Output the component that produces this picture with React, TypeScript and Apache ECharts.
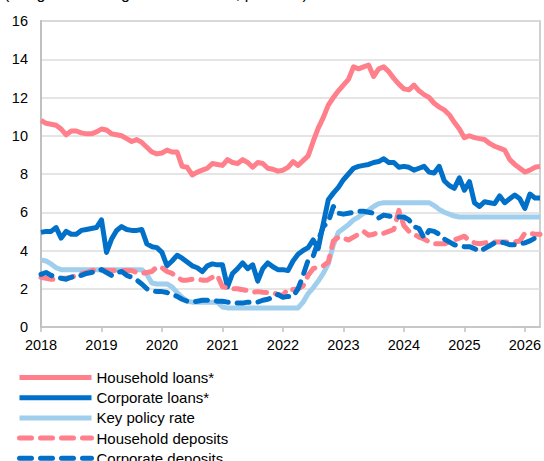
import React, { useEffect, useRef } from "react";
import * as echarts from "echarts";

const startYear = 2018;
const monthCount = 100; // Jan 2018 – Apr 2026

const householdLoans = [
  10.8, 10.65, 10.6, 10.55, 10.35, 10.05, 10.25, 10.25, 10.15, 10.1, 10.1, 10.2,
  10.35, 10.3, 10.1, 10.05, 10.0, 9.85, 9.7, 9.8, 9.65, 9.4, 9.15, 9.05,
  9.1, 9.25, 9.15, 9.15, 8.4, 8.35, 7.95, 8.1, 8.2, 8.3, 8.55, 8.5,
  8.45, 8.75, 8.6, 8.55, 8.75, 8.6, 8.35, 8.6, 8.55, 8.3, 8.25, 8.15,
  8.2, 8.35, 8.65, 8.45, 8.7, 8.95, 9.7, 10.4, 10.95, 11.6, 12.0, 12.35,
  12.65, 12.95, 13.6, 13.5, 13.6, 13.7, 13.1, 13.5, 13.6, 13.35, 13.0, 12.7,
  12.45, 12.4, 12.65, 12.35, 12.15, 12.0, 11.7, 11.5, 11.35, 11.1, 10.7, 10.35,
  9.9, 10.0, 9.9, 9.85, 9.8, 9.6, 9.45, 9.35, 9.25, 8.75, 8.5, 8.3,
  8.1, 8.2, 8.35, 8.4,
];

const corporateLoans = [
  4.95, 5.0, 5.0, 5.2, 4.65, 5.0, 4.85, 4.85, 5.05, 5.1, 5.15, 5.2,
  5.6, 3.9, 4.6, 5.05, 5.25, 5.1, 5.05, 5.05, 5.1, 4.35, 4.2, 4.15,
  3.9, 3.2, 3.45, 3.75, 3.6, 3.4, 3.2, 3.1, 2.9, 3.2, 3.3, 3.25,
  3.25, 2.1, 2.8, 3.05, 3.35, 3.05, 3.25, 2.4, 3.05, 3.35, 3.15, 3.0,
  3.0, 2.95, 3.45, 3.8, 4.0, 4.15, 4.55, 4.1, 5.4, 6.65, 7.0, 7.3,
  7.7, 8.0, 8.3, 8.4, 8.45, 8.5, 8.6, 8.65, 8.8, 8.6, 8.6, 8.35,
  8.4, 8.35, 8.2, 8.3, 8.4, 8.1, 8.05, 8.4, 7.65, 7.4, 7.25, 7.8,
  7.15, 7.6, 6.5, 6.3, 6.55, 6.5, 6.45, 6.85, 6.5, 6.7, 6.9, 6.7,
  6.2, 6.95, 6.75, 6.75,
];

const keyPolicyRate = [
  3.5, 3.45, 3.3, 3.1, 3.0, 3.0, 3.0, 3.0, 3.0, 3.0, 3.0, 3.0,
  3.0, 3.0, 3.0, 3.0, 3.0, 3.0, 3.0, 3.0, 3.0, 2.75, 2.3, 2.25,
  2.25, 2.25, 2.1, 1.8, 1.55, 1.35, 1.3, 1.3, 1.3, 1.3, 1.3, 1.3,
  1.05, 1.0, 1.0, 1.0, 1.0, 1.0, 1.0, 1.0, 1.0, 1.0, 1.0, 1.0,
  1.0, 1.0, 1.0, 1.0, 1.3, 1.75, 2.05, 2.4, 2.8, 3.3, 4.3, 4.95,
  5.15, 5.35, 5.6, 5.75, 5.95, 6.1, 6.3, 6.45, 6.5, 6.5, 6.5, 6.5,
  6.5, 6.5, 6.5, 6.5, 6.5, 6.5, 6.35, 6.15, 6.0, 5.9, 5.8, 5.75,
  5.75, 5.75, 5.75, 5.75, 5.75, 5.75, 5.75, 5.75, 5.75, 5.75, 5.75, 5.75,
  5.75, 5.75, 5.75, 5.75,
];

const householdDeposits = [
  2.6, 2.55, 2.5, 2.5, 2.55, 2.55, 2.6, 2.7, 2.8, 2.85, 2.95, 3.0,
  3.0, 2.95, 2.95, 2.95, 2.95, 2.95, 2.95, 2.85, 2.8, 2.85, 2.9, 3.15,
  3.1, 2.9, 2.8, 2.6, 2.45, 2.45, 2.5, 2.5, 2.45, 2.45, 2.6, 2.7,
  2.1, 2.05, 2.0, 2.0, 1.95, 1.9, 1.82, 1.85, 1.82, 1.8, 1.8, 1.7,
  1.65, 2.0, 1.95, 2.0, 2.15, 2.7, 3.05, 3.15, 3.2, 3.4, 4.5, 4.7,
  4.65, 4.55, 4.7, 4.85, 5.0, 4.8, 4.85, 4.95, 4.9, 5.0, 5.1, 6.1,
  5.3, 5.0, 4.85, 4.7, 4.6, 4.45, 4.35, 4.35, 4.35, 4.45, 4.55, 4.65,
  4.75, 4.5, 4.4, 4.35, 4.4, 4.45, 4.45, 4.45, 4.45, 4.45, 4.45, 4.5,
  4.9, 4.9, 4.85, 4.85,
];

const corporateDeposits = [
  2.75, 2.85, 2.7, 2.6, 2.55, 2.5, 2.6, 2.65, 2.7, 2.8, 2.85, 2.9,
  3.0, 2.85, 2.7, 2.85, 2.9, 2.7, 2.6, 2.45, 2.25, 2.0, 1.9, 1.85,
  1.85, 1.8, 1.7, 1.6, 1.45, 1.35, 1.3, 1.35, 1.4, 1.4, 1.4, 1.35,
  1.35, 1.3, 1.3, 1.25, 1.25, 1.3, 1.3, 1.3, 1.4, 1.45, 1.55, 1.7,
  1.55, 1.6, 1.6, 2.0, 2.7, 3.5, 3.7, 4.5, 5.25, 5.5, 6.3, 5.95,
  5.9, 5.95, 6.0, 6.05, 6.05, 6.0, 5.95, 5.7, 5.85, 5.8, 5.75, 5.75,
  5.75, 5.6, 5.25, 5.15, 4.65, 5.05, 5.0, 4.85, 4.6, 4.45, 4.3, 4.25,
  4.2, 4.2, 4.1, 3.95, 4.1, 4.25, 4.4, 4.45, 4.4, 4.3, 4.3, 4.35,
  4.4, 4.5, 4.65, 4.65,
];

const seriesNames = [
  "Household loans*",
  "Corporate loans*",
  "Key policy rate",
  "Household deposits",
  "Corporate deposits",
];

const PINK = "#FF7F8B";
const BLUE = "#0070C8";
const LIGHT = "#9FCFEC";
const FONT = "Arial, 'Liberation Sans', sans-serif";

const categories: string[] = [];
for (let i = 0; i < monthCount; i++) {
  const y = startYear + Math.floor(i / 12);
  const m = (i % 12) + 1;
  categories.push(`${y}-${m < 10 ? "0" + m : m}`);
}

export default function App() {
  const ref = useRef<HTMLDivElement>(null);

  useEffect(() => {
    if (!ref.current) return;
    const chart = echarts.init(ref.current, null, { renderer: "svg" });
    const mk = (name: string, data: number[], color: string, dashed: boolean, z: number) => ({
      name,
      type: "line",
      data,
      symbol: "none",
      z,
      lineStyle: {
        color,
        width: 5,
        type: dashed ? [12, 9] : "solid",
        cap: dashed ? "round" : "butt",
        join: "round",
      },
      itemStyle: { color },
    });
    chart.setOption({
      animation: false,
      textStyle: { fontFamily: FONT },
      grid: {
        left: 41,
        right: 3,
        top: 21,
        bottom: 134,
        show: true,
        borderColor: "#C0C0C0",
        borderWidth: 1.5,
      },
      graphic: [
        {
          type: "text",
          left: 4,
          top: -15,
          style: {
            text: "(Weighted average interest rates, per cent)",
            fontSize: 16,
            fontFamily: FONT,
            fill: "#000",
          },
        },
      ],
      legend: {
        orient: "vertical",
        left: 17,
        top: 370,
        height: 130,
        padding: 0,
        itemWidth: 72,
        itemHeight: 14,
        itemGap: 5.2,
        itemStyle: { opacity: 0, borderWidth: 0 },
        lineStyle: { width: 5 },
        textStyle: { fontSize: 15, lineHeight: 14, color: "#000", fontFamily: FONT },
        data: seriesNames,
      },
      xAxis: {
        type: "category",
        data: categories,
        boundaryGap: false,
        axisLine: { show: true, lineStyle: { color: "#C0C0C0", width: 1.5 } },
        axisTick: {
          show: true,
          interval: 11,
          length: 5,
          lineStyle: { color: "#C0C0C0", width: 1.5 },
        },
        axisLabel: {
          interval: 11,
          color: "#000",
          fontSize: 14.5,
          fontFamily: FONT,
          margin: 10,
          formatter: (v: string) => v.slice(0, 4),
        },
        splitLine: { show: false },
      },
      yAxis: {
        type: "value",
        min: 0,
        max: 16,
        interval: 2,
        axisLine: { show: true, lineStyle: { color: "#C0C0C0", width: 2 } },
        axisTick: { show: false },
        axisLabel: { color: "#000", fontSize: 14.5, fontFamily: FONT, margin: 13 },
        splitLine: { show: true, lineStyle: { color: "#DCDCDC", width: 1.5 } },
      },
      series: [
        mk(seriesNames[0], householdLoans, PINK, false, 2),
        mk(seriesNames[1], corporateLoans, BLUE, false, 3),
        mk(seriesNames[2], keyPolicyRate, LIGHT, false, 4),
        mk(seriesNames[3], householdDeposits, PINK, true, 5),
        mk(seriesNames[4], corporateDeposits, BLUE, true, 6),
      ],
    });
    return () => chart.dispose();
  }, []);

  return (
    <div
      ref={ref}
      style={{ position: "fixed", left: 0, top: 0, width: 544, height: 461, background: "#fff" }}
    />
  );
}
